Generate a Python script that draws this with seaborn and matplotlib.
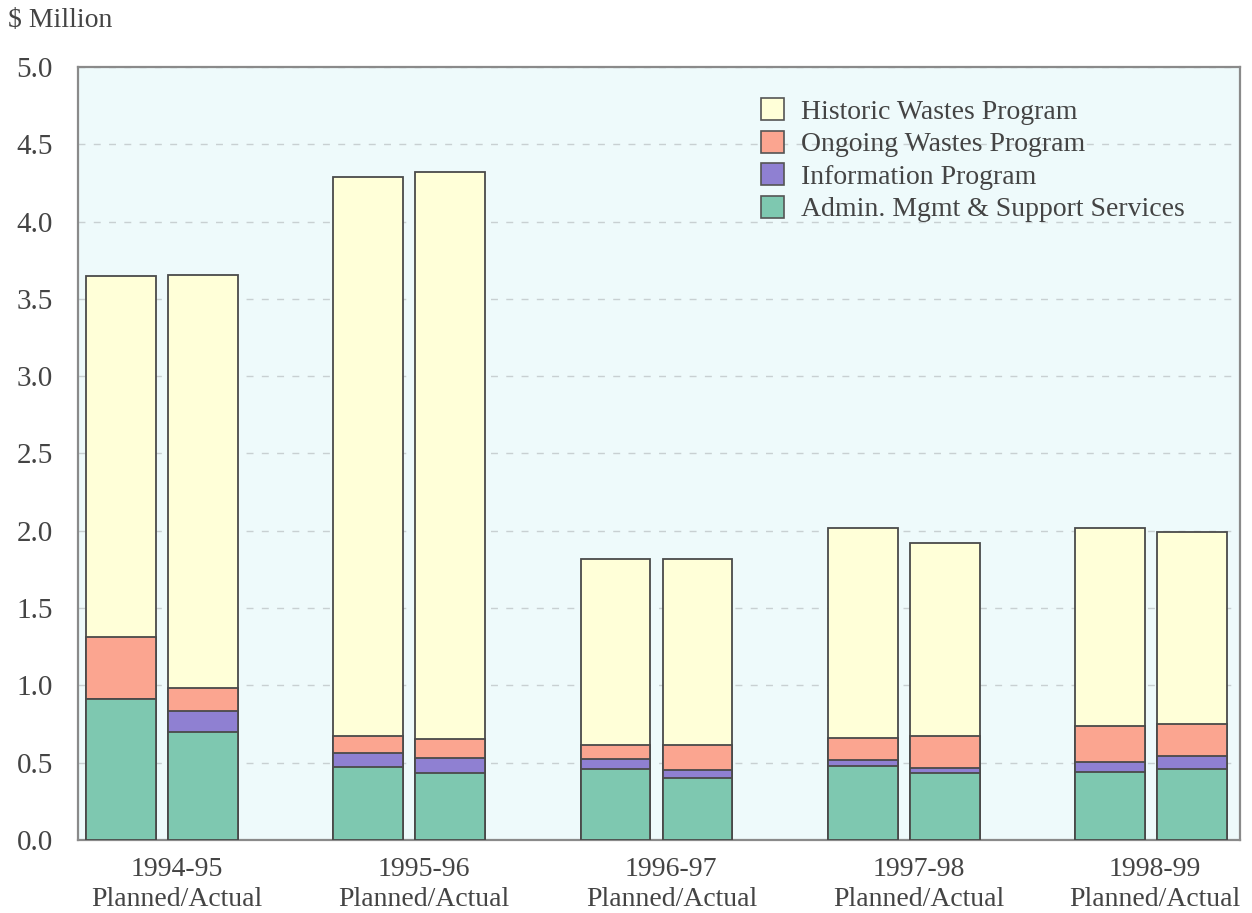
import matplotlib
matplotlib.use("Agg")
import matplotlib.pyplot as plt
import seaborn as sns
import pandas as pd
from matplotlib.patches import Patch

# ---- data ($ Million) ----
years = ["1994-95", "1995-96", "1996-97", "1997-98", "1998-99"]
kinds = ["Planned", "Actual"]
admin_planned = [0.91, 0.47, 0.46, 0.48, 0.44]
admin_actual = [0.70, 0.43, 0.40, 0.43, 0.46]
info_planned = [0.00, 0.09, 0.065, 0.04, 0.065]
info_actual = [0.135, 0.10, 0.055, 0.035, 0.08]
ongoing_planned = [0.40, 0.11, 0.09, 0.14, 0.235]
ongoing_actual = [0.15, 0.12, 0.16, 0.205, 0.21]
historic_planned = [2.34, 3.62, 1.20, 1.36, 1.275]
historic_actual = [2.67, 3.67, 1.20, 1.25, 1.24]

series_names = ["Historic Wastes Program", "Ongoing Wastes Program",
                "Information Program", "Admin. Mgmt & Support Services"]
colors = {"Historic Wastes Program": "#ffffd8",
          "Ongoing Wastes Program": "#fba590",
          "Information Program": "#8f80d2",
          "Admin. Mgmt & Support Services": "#7ec8b0"}

rows = []
for i, y in enumerate(years):
    for k in kinds:
        if k == "Planned":
            a, b, c, d = admin_planned[i], info_planned[i], ongoing_planned[i], historic_planned[i]
        else:
            a, b, c, d = admin_actual[i], info_actual[i], ongoing_actual[i], historic_actual[i]
        rows.append({"year": y, "kind": k,
                     "Admin. Mgmt & Support Services": a,
                     "Information Program": a + b,
                     "Ongoing Wastes Program": a + b + c,
                     "Historic Wastes Program": a + b + c + d})
df = pd.DataFrame(rows)

sns.set_theme(style="white")
plt.rcParams["font.family"] = ["Liberation Serif", "DejaVu Serif"]

fig = plt.figure(figsize=(12.52, 9.13), dpi=100)
ax = fig.add_axes([0.0623, 0.080, 0.9281, 0.8466])
ax.set_facecolor("#eefafb")

for z, name in enumerate(series_names):
    sns.barplot(data=df, x="year", y=name, hue="kind", order=years,
                hue_order=kinds, palette=[colors[name], colors[name]],
                saturation=1, width=0.664, gap=0.15, edgecolor="#4a4a4a",
                linewidth=1.3, errorbar=None, legend=False, ax=ax, zorder=2 + z)

ax.set_ylim(0, 5.0)
ax.set_xlim(-0.34, 4.36)
ax.set_yticks([i * 0.5 for i in range(11)])
ax.set_yticklabels([f"{i * 0.5:.1f}" for i in range(11)], fontsize=21, color="#444444")
# labels sit slightly right of the group centres in the reference
label_shift = [0.06, 0.06, 0.06, 0.06, 0.015]
ax.set_xticks([i + s for i, s in enumerate(label_shift)])
ax.set_xticklabels([f"{y}\nPlanned/Actual" for y in years], fontsize=20,
                   color="#444444", linespacing=1.3)
ax.tick_params(axis="y", length=0, pad=18)
ax.tick_params(axis="x", length=0, pad=12)
ax.set_xlabel("")
ax.set_ylabel("")
ax.yaxis.grid(True, linestyle=(0, (5, 6)), color="#c8d0d2", linewidth=1.0)
ax.set_axisbelow(True)
for s in ax.spines.values():
    s.set_color("#8a8a8a")
    s.set_linewidth(1.6)

handles = [Patch(facecolor=colors[n], edgecolor="#555555", linewidth=1.2, label=n)
           for n in series_names]
ax.legend(handles=handles, loc="upper left", bbox_to_anchor=(0.566, 0.992),
          frameon=False, fontsize=20, handlelength=0.85, handleheight=0.85,
          handletextpad=0.6, labelspacing=0.21, borderpad=0.4, labelcolor="#444444")

fig.text(0.006, 0.977, r"\$ Million", fontsize=20, color="#444444", ha="left", va="center")

fig.savefig("out.png", dpi=100, facecolor="white")
